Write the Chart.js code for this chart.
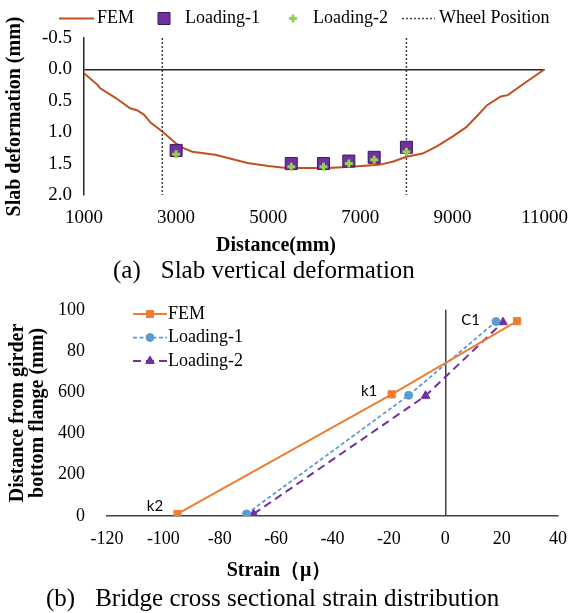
<!DOCTYPE html>
<html>
<head>
<meta charset="utf-8">
<script src="https://cdn.jsdelivr.net/npm/chart.js"></script>
<style>
  body { margin: 0; background: #fff; }
  #page { position: relative; width: 580px; height: 613px; font-family: 'Liberation Serif', 'Times New Roman', serif; color: #000; }
  #chartA { position: absolute; left: 0; top: 0; }
  #chartB { position: absolute; left: 0; top: 285px; }
  .caption { position: absolute; font-size: 25px; line-height: 28px; white-space: nowrap; }
  .caption span { margin-right: 20px; }
</style>
</head>
<body>
<div id="page">
  <canvas id="chartA" width="580" height="260"></canvas>
  <div class="caption" style="left:113px; top:256px;"><span>(a)</span>Slab vertical deformation</div>
  <canvas id="chartB" width="580" height="300"></canvas>
  <div class="caption" style="left:46px; top:584px;"><span>(b)</span>Bridge cross sectional strain distribution</div>
</div>
<script>
// (a) slab vertical deformation
const femDistance = [1000, 1300, 1350, 1700, 2000, 2150, 2300, 2450, 2700, 3000, 3150, 3350, 3850, 4550, 5000, 5400, 6300, 6800, 7400, 7700, 8000, 8350, 8650, 9000, 9300, 9550, 9750, 10050, 10200, 10600, 11000];
const femDeformation = [0.06, 0.25, 0.30, 0.46, 0.62, 0.65, 0.72, 0.85, 0.99, 1.18, 1.25, 1.31, 1.36, 1.49, 1.54, 1.57, 1.57, 1.55, 1.52, 1.47, 1.39, 1.34, 1.23, 1.07, 0.92, 0.73, 0.57, 0.43, 0.41, 0.20, 0.00];
const gaugeDistance = [3000, 5500, 6200, 6750, 7300, 8000];
const loading1Deformation = [1.29, 1.50, 1.50, 1.46, 1.40, 1.24];
const loading2Deformation = [1.35, 1.55, 1.55, 1.50, 1.44, 1.31];
const wheelPositions = [2700, 8000];
const deformationRange = [-0.5, 2.0];
const distanceRange = [1000, 11000];

// (b) cross sectional strain
const femStrain = [-95, -19, 25.5];
const femHeight = [10, 590, 945];
const loading1Strain = [-70.5, -13, 18];
const loading1Height = [10, 585, 943];
const loading2Strain = [-68, -7, 20.5];
const loading2Height = [10, 583, 940];
const heightTickLabels = ['0', '200', '400', '600', '80', '100'];
const pointNames = ['k2', 'k1', 'C1'];
const pointNameStrain = [-103, -27, 9];
const pointNameHeight = [48, 606, 951];

const serif = "'Liberation Serif', 'Times New Roman', serif";
Chart.defaults.font.family = serif;
Chart.defaults.color = '#000';

function toPoints(xs, ys) {
    return xs.map((x, i) => ({ x: x, y: ys[i] }));
}

// legend drawn by hand so that line + marker samples look like the Excel ones
function makeLegend(cfg) {
    return {
        id: 'lineLegend',
        afterDraw(chart) {
            const ctx = chart.ctx;
            ctx.save();
            ctx.font = cfg.font;
            ctx.textBaseline = 'middle';
            let x = cfg.x, y = cfg.y;
            cfg.items.forEach(item => {
                const ds = chart.data.datasets[item.index];
                if (item.line) {
                    ctx.beginPath();
                    ctx.strokeStyle = ds.borderColor;
                    ctx.lineWidth = ds.borderWidth;
                    ctx.setLineDash(ds.borderDash || []);
                    ctx.moveTo(x, y);
                    ctx.lineTo(x + item.width, y);
                    ctx.stroke();
                    ctx.setLineDash([]);
                }
                if (item.point) {
                    ctx.fillStyle = ds.backgroundColor;
                    ctx.strokeStyle = ds.borderColor;
                    ctx.lineWidth = ds.pointBorderWidth || 1;
                    Chart.helpers.drawPoint(ctx, {
                        pointStyle: ds.pointStyle,
                        radius: ds.pointRadius,
                        rotation: 0,
                        borderWidth: ds.pointBorderWidth || 1
                    }, x + item.width / 2, y);
                }
                const tx = x + item.width + item.gap;
                ctx.fillStyle = '#000';
                ctx.fillText(ds.label, tx, y);
                if (cfg.rowHeight) {
                    y += cfg.rowHeight;
                } else {
                    x = tx + ctx.measureText(ds.label).width + item.after;
                }
            });
            ctx.restore();
        }
    };
}

const pointLabels = {
    id: 'pointLabels',
    afterDatasetsDraw(chart) {
        const { ctx, scales } = chart;
        ctx.save();
        ctx.font = "15px Lato, 'Liberation Sans', sans-serif";
        ctx.fillStyle = '#000';
        ctx.textAlign = 'center';
        ctx.textBaseline = 'middle';
        pointNames.forEach((name, i) => {
            ctx.fillText(name, scales.x.getPixelForValue(pointNameStrain[i]), scales.y.getPixelForValue(pointNameHeight[i]));
        });
        ctx.restore();
    }
};

const wheelData = [];
wheelPositions.forEach((w, i) => {
    if (i > 0) wheelData.push({ x: w, y: null });
    wheelData.push({ x: w, y: deformationRange[0] }, { x: w, y: deformationRange[1] });
});

const chartA = new Chart(document.getElementById('chartA'), {
    type: 'scatter',
    data: {
        datasets: [{
            label: 'FEM',
            data: toPoints(femDistance, femDeformation),
            showLine: true,
            borderColor: '#C0501F',
            backgroundColor: '#C0501F',
            borderWidth: 2,
            pointRadius: 0,
            order: 3
        }, {
            label: 'Loading-1',
            data: toPoints(gaugeDistance, loading1Deformation),
            pointStyle: 'rect',
            pointRadius: 8.5,
            backgroundColor: '#7030A0',
            borderColor: '#3B1A5A',
            pointBorderWidth: 1,
            order: 1
        }, {
            label: 'Loading-2',
            data: toPoints(gaugeDistance, loading2Deformation),
            pointStyle: 'cross',
            pointRadius: 4,
            backgroundColor: '#92D050',
            borderColor: '#92D050',
            pointBorderWidth: 3,
            order: 0
        }, {
            label: 'Wheel Position',
            data: wheelData,
            showLine: true,
            spanGaps: false,
            borderColor: '#404040',
            borderWidth: 1.5,
            borderDash: [2, 2],
            pointRadius: 0,
            order: 2
        }]
    },
    options: {
        responsive: false,
        animation: false,
        devicePixelRatio: 1,
        layout: { padding: { left: 0, right: 28, top: 38, bottom: 0 } },
        plugins: {
            legend: { display: false },
            tooltip: { enabled: false },
            title: {
                display: true,
                position: 'bottom',
                text: 'Distance(mm)',
                font: { size: 20, weight: 'bold', family: serif },
                padding: { top: 3, bottom: 2 }
            }
        },
        scales: {
            x: {
                type: 'linear',
                min: distanceRange[0],
                max: distanceRange[1],
                grid: { display: false, drawTicks: false },
                border: { display: false },
                ticks: { stepSize: 2000, padding: 12, font: { size: 19 }, callback: v => String(v) },
                afterFit: s => { s.height = 36; }
            },
            y: {
                type: 'linear',
                reverse: true,
                min: deformationRange[0],
                max: deformationRange[1],
                grid: {
                    drawTicks: false,
                    lineWidth: 1.5,
                    color: c => (c.tick && c.tick.value === 0 ? '#262626' : 'rgba(0,0,0,0)')
                },
                border: { display: true, color: '#262626', width: 1.5 },
                ticks: { stepSize: 0.5, padding: 12, font: { size: 19 }, callback: v => v.toFixed(1) },
                title: {
                    display: true,
                    text: 'Slab deformation (mm)',
                    font: { size: 20, weight: 'bold', family: serif },
                    padding: { top: 3, bottom: 0 }
                },
                afterFit: s => { s.width = 84; }
            }
        }
    },
    plugins: [makeLegend({
        font: '18px ' + serif,
        x: 59,
        y: 18.5,
        items: [
            { index: 0, line: true, point: false, width: 35, gap: 3, after: 25 },
            { index: 1, line: false, point: true, width: 10, gap: 16, after: 28 },
            { index: 2, line: false, point: true, width: 10, gap: 15, after: 14 },
            { index: 3, line: true, point: false, width: 33, gap: 4, after: 0 }
        ]
    })]
});

const chartB = new Chart(document.getElementById('chartB'), {
    type: 'scatter',
    data: {
        datasets: [{
            label: 'FEM',
            data: toPoints(femStrain, femHeight),
            showLine: true,
            borderColor: '#ED7D31',
            backgroundColor: '#ED7D31',
            borderWidth: 2,
            pointStyle: 'rect',
            pointRadius: 5,
            pointBorderWidth: 1
        }, {
            label: 'Loading-1',
            data: toPoints(loading1Strain, loading1Height),
            showLine: true,
            borderColor: '#5B9BD5',
            backgroundColor: '#5B9BD5',
            borderWidth: 1.75,
            borderDash: [4, 2.5],
            pointStyle: 'circle',
            pointRadius: 4,
            pointBorderWidth: 1
        }, {
            label: 'Loading-2',
            data: toPoints(loading2Strain, loading2Height),
            showLine: true,
            borderColor: '#7030A0',
            backgroundColor: '#7030A0',
            borderWidth: 2,
            borderDash: [8, 5],
            pointStyle: 'triangle',
            pointRadius: 5,
            pointBorderWidth: 1
        }]
    },
    options: {
        responsive: false,
        animation: false,
        devicePixelRatio: 1,
        layout: { padding: { left: 0, right: 22, top: 24, bottom: 0 } },
        plugins: {
            legend: { display: false },
            tooltip: { enabled: false },
            title: {
                display: true,
                position: 'bottom',
                text: 'Strain（μ）',
                font: { size: 20, weight: 'bold', family: serif },
                padding: { top: 8, bottom: 2 }
            }
        },
        scales: {
            x: {
                type: 'linear',
                min: -120,
                max: 40,
                grid: {
                    drawTicks: false,
                    lineWidth: 1.5,
                    color: c => (c.tick && c.tick.value === 0 ? '#404040' : 'rgba(0,0,0,0)')
                },
                border: { display: true, color: '#404040', width: 1.5 },
                ticks: { stepSize: 20, padding: 12, font: { size: 18 }, callback: v => String(v) },
                afterFit: s => { s.height = 35; }
            },
            y: {
                type: 'linear',
                min: 0,
                max: 1000,
                grid: { display: false },
                border: { display: false },
                ticks: { stepSize: 200, padding: 14, font: { size: 18 }, callback: (v, i) => heightTickLabels[i] },
                title: {
                    display: true,
                    text: ['Distance from girder', 'bottom flange (mm)'],
                    font: { size: 20, weight: 'bold', family: serif, lineHeight: 1.0 },
                    padding: { top: 7.5, bottom: 0 }
                },
                afterFit: s => { s.width = 107; }
            }
        }
    },
    plugins: [pointLabels, makeLegend({
        font: '18px ' + serif,
        x: 133,
        y: 29,
        rowHeight: 23.5,
        items: [
            { index: 0, line: true, point: true, width: 34, gap: 1 },
            { index: 1, line: true, point: true, width: 34, gap: 1 },
            { index: 2, line: true, point: true, width: 34, gap: 1 }
        ]
    })]
});
</script>
</body>
</html>
